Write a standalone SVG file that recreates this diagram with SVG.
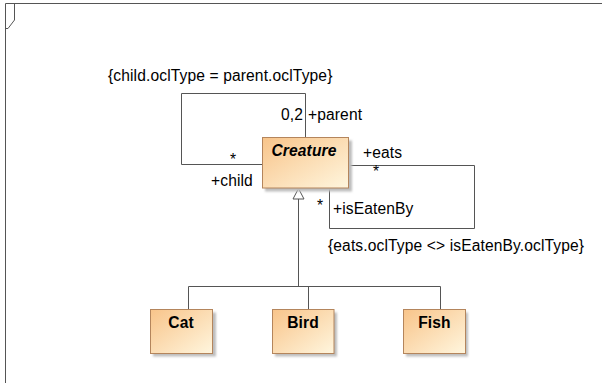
<svg xmlns="http://www.w3.org/2000/svg" width="602" height="383" viewBox="0 0 602 383">
<defs>
<linearGradient id="g" x1="0" y1="0" x2="1" y2="1">
<stop offset="0" stop-color="#f8c48a"/>
<stop offset="1" stop-color="#fff6de"/>
</linearGradient>
<filter id="blur" x="-10%" y="-10%" width="130%" height="130%">
<feGaussianBlur stdDeviation="0.8"/>
</filter>
<style>
.ln{fill:none;stroke:#555;stroke-width:1}
.box{fill:url(#g);stroke:#b4855c;stroke-width:1}
.sh{fill:#bdbdbd;stroke:none;filter:url(#blur)}
text{font-family:"Liberation Sans",Arial,sans-serif;font-size:15.6px;letter-spacing:0.12px;fill:#000}
.b{font-weight:bold}
.bi{font-weight:bold;font-style:italic}
</style>
</defs>
<rect width="602" height="383" fill="#fff"/>
<g id="frame">
<path class="ln" d="M5.5,383 V3.5 H602" stroke-width="1.5"/>
<path class="ln" d="M14.5,3.5 V20 L8,28.5 H5.5"/>
</g>
<g id="connectors">
<path class="ln" d="M305.5,137 V93.5 H181.5 V164.5 H262"/>
<path class="ln" d="M349,165.5 H474.5 V228.5 H329.5 V188"/>
<path class="ln" d="M298.5,199 V286.5"/>
<path class="ln" d="M188.5,309 V286.5 H440.5 V309 M308.5,286.5 V309"/>
<polygon class="ln" points="298.5,188.5 293,199 304,199" fill="#fff"/>
<text x="108" y="81">{child.oclType = parent.oclType}</text>
<text x="303" y="120" text-anchor="end">0,2</text>
<text x="308" y="120">+parent</text>
<text x="230" y="165">*</text>
<text x="211" y="186">+child</text>
<text x="363" y="158">+eats</text>
<text x="373" y="177">*</text>
<text x="317" y="211">*</text>
<text x="333" y="214">+isEatenBy</text>
<text x="328" y="251">{eats.oclType &lt;&gt; isEatenBy.oclType}</text>
</g>
<g id="creature">
<rect class="sh" x="265" y="140.5" width="87" height="51"/>
<rect class="box" x="262.5" y="137.5" width="86" height="50.5"/>
<text class="bi" x="304" y="156" text-anchor="middle">Creature</text>
</g>
<g id="cat">
<rect class="sh" x="153" y="312.5" width="63" height="44"/>
<rect class="box" x="150.5" y="309.5" width="62" height="44"/>
<text class="b" x="181" y="328" text-anchor="middle">Cat</text>
</g>
<g id="bird">
<rect class="sh" x="275" y="312.5" width="62" height="44"/>
<rect class="box" x="272.5" y="309.5" width="61.5" height="44"/>
<text class="b" x="303" y="328" text-anchor="middle">Bird</text>
</g>
<g id="fish">
<rect class="sh" x="406" y="312.5" width="62" height="44"/>
<rect class="box" x="403.5" y="309.5" width="62" height="44"/>
<text class="b" x="434.5" y="328" text-anchor="middle">Fish</text>
</g>
</svg>
